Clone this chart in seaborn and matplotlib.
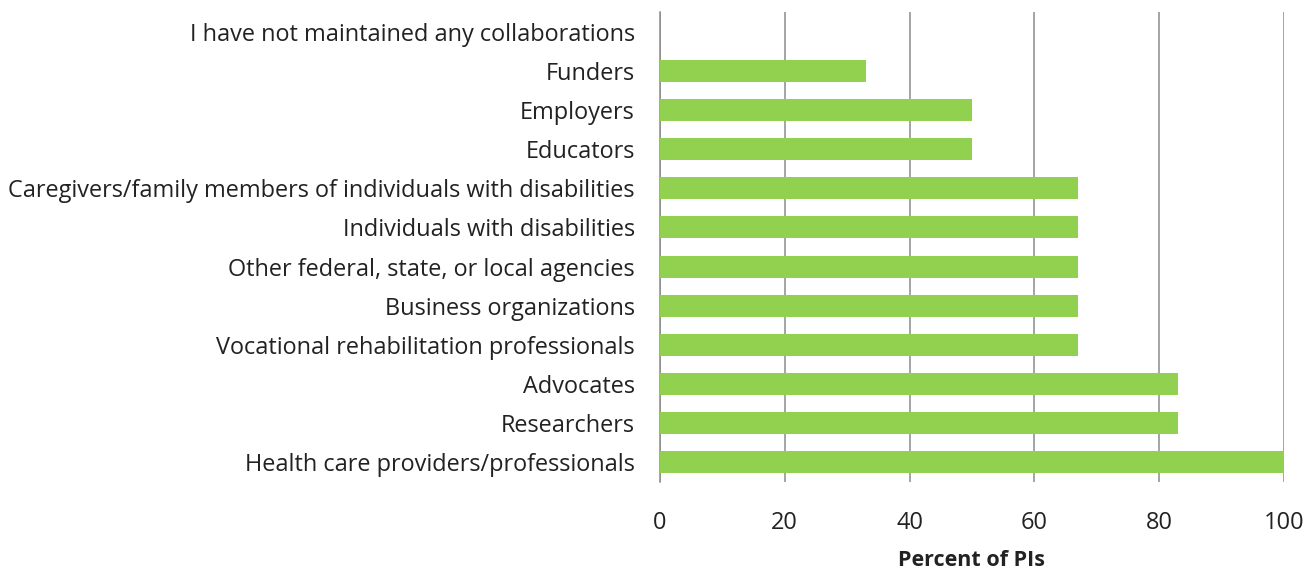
import matplotlib
matplotlib.use("Agg")
import matplotlib.pyplot as plt
import seaborn as sns
import pandas as pd

categories = [
    "I have not maintained any collaborations",
    "Funders",
    "Employers",
    "Educators",
    "Caregivers/family members of individuals with disabilities",
    "Individuals with disabilities",
    "Other federal, state, or local agencies",
    "Business organizations",
    "Vocational rehabilitation professionals",
    "Advocates",
    "Researchers",
    "Health care providers/professionals",
]
values = [0, 33, 50, 50, 67, 67, 67, 67, 67, 83, 83, 100]
xticks = [0, 20, 40, 60, 80, 100]

df = pd.DataFrame({"category": categories, "value": values})

sns.set_style("white")
plt.rcParams["font.family"] = ["Open Sans", "DejaVu Sans"]

fig = plt.figure(figsize=(13.06, 5.69), dpi=100)
ax = fig.add_axes([660 / 1306, 1 - 482 / 569, 624 / 1306, 470 / 569])

sns.barplot(data=df, x="value", y="category", color="#92D050", width=0.56,
            saturation=1, ax=ax, linewidth=0, zorder=3)

ax.set_xlim(0, 100)
ax.set_xticks(xticks)
ax.set_xticklabels([str(t) for t in xticks], fontsize=17, color="#222222")
ax.tick_params(axis="y", labelsize=16.9, length=0, pad=18, labelcolor="#222222")
ax.tick_params(axis="x", length=0, pad=21)
ax.grid(axis="x", color="#8C8C8C", linewidth=1.1, zorder=0)
ax.set_axisbelow(True)
for s in ["top", "right", "bottom"]:
    ax.spines[s].set_visible(False)
ax.spines["left"].set_color("#8C8C8C")
ax.spines["left"].set_linewidth(1.1)
ax.set_ylabel("")
ax.set_xlabel("Percent of PIs", fontsize=15.5, fontweight="bold", labelpad=11, color="#222222")

fig.savefig("out.png", dpi=100)
